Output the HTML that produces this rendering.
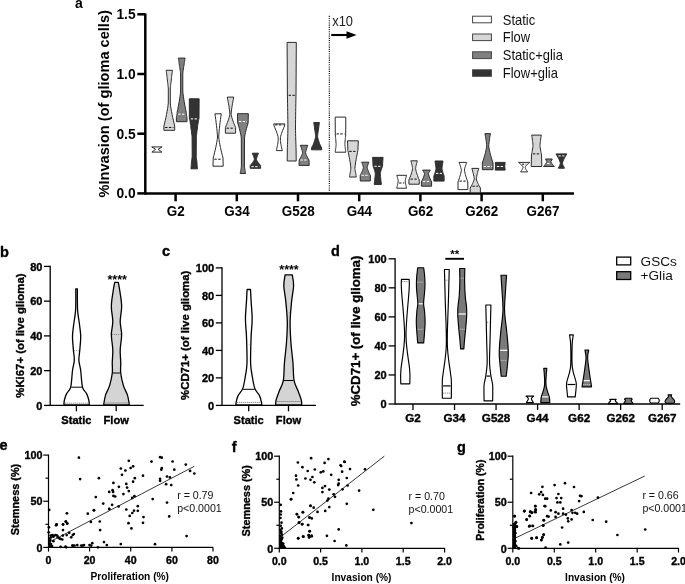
<!DOCTYPE html><html><head><meta charset="utf-8"><style>html,body{margin:0;padding:0;background:#fff;}body{width:685px;height:584px;overflow:hidden;}svg{display:block;will-change:transform;filter:blur(0.35px);font-family:"Liberation Sans",sans-serif;}</style></head><body>
<svg width="685" height="584" viewBox="0 0 685 584">
<rect width="685" height="584" fill="#fff"/>
<text x="75" y="7.7" font-size="14" font-weight="bold" text-anchor="start" fill="#000" >a</text>
<line x1="145.3" y1="13.45" x2="145.3" y2="194.65" stroke="#000" stroke-width="2.5" />
<line x1="145.3" y1="193.4" x2="574" y2="193.4" stroke="#000" stroke-width="2.5" />
<line x1="137.3" y1="193.4" x2="145.3" y2="193.4" stroke="#000" stroke-width="2.5" />
<text x="135.6" y="198.4" font-size="13.8" font-weight="bold" text-anchor="end" fill="#000" >0.0</text>
<line x1="137.3" y1="133.7" x2="145.3" y2="133.7" stroke="#000" stroke-width="2.5" />
<text x="135.6" y="138.7" font-size="13.8" font-weight="bold" text-anchor="end" fill="#000" >0.5</text>
<line x1="137.3" y1="74" x2="145.3" y2="74" stroke="#000" stroke-width="2.5" />
<text x="135.6" y="79" font-size="13.8" font-weight="bold" text-anchor="end" fill="#000" >1.0</text>
<line x1="137.3" y1="14.3" x2="145.3" y2="14.3" stroke="#000" stroke-width="2.5" />
<text x="135.6" y="19.3" font-size="13.8" font-weight="bold" text-anchor="end" fill="#000" >1.5</text>
<line x1="175.6" y1="193.4" x2="175.6" y2="201.3" stroke="#000" stroke-width="2.5" />
<text transform="translate(175.8,215.8) scale(0.96,1)" font-size="14" font-weight="bold" text-anchor="middle" fill="#000" >G2</text>
<line x1="236.8" y1="193.4" x2="236.8" y2="201.3" stroke="#000" stroke-width="2.5" />
<text transform="translate(237,215.8) scale(0.96,1)" font-size="14" font-weight="bold" text-anchor="middle" fill="#000" >G34</text>
<line x1="298" y1="193.4" x2="298" y2="201.3" stroke="#000" stroke-width="2.5" />
<text transform="translate(298.2,215.8) scale(0.96,1)" font-size="14" font-weight="bold" text-anchor="middle" fill="#000" >G528</text>
<line x1="359.2" y1="193.4" x2="359.2" y2="201.3" stroke="#000" stroke-width="2.5" />
<text transform="translate(359.4,215.8) scale(0.96,1)" font-size="14" font-weight="bold" text-anchor="middle" fill="#000" >G44</text>
<line x1="420.4" y1="193.4" x2="420.4" y2="201.3" stroke="#000" stroke-width="2.5" />
<text transform="translate(420.6,215.8) scale(0.96,1)" font-size="14" font-weight="bold" text-anchor="middle" fill="#000" >G62</text>
<line x1="481.6" y1="193.4" x2="481.6" y2="201.3" stroke="#000" stroke-width="2.5" />
<text transform="translate(481.8,215.8) scale(0.96,1)" font-size="14" font-weight="bold" text-anchor="middle" fill="#000" >G262</text>
<line x1="542.8" y1="193.4" x2="542.8" y2="201.3" stroke="#000" stroke-width="2.5" />
<text transform="translate(543,215.8) scale(0.96,1)" font-size="14" font-weight="bold" text-anchor="middle" fill="#000" >G267</text>
<text transform="translate(108.9,103.8) rotate(-90)" font-size="14.6" font-weight="bold" text-anchor="middle" fill="#000">%Invasion (of glioma cells)</text>
<line x1="329.3" y1="15.8" x2="329.3" y2="190.8" stroke="#000" stroke-width="1.1" stroke-dasharray="1.1,1.1"/>
<text transform="translate(332.2,25.7) scale(0.9,1)" font-size="14.3" font-weight="normal" text-anchor="start" fill="#222" >x10</text>
<line x1="331.2" y1="35" x2="348" y2="35" stroke="#000" stroke-width="2.1" />
<polygon points="346.5,31.2 356.6,35 346.5,38.8" fill="#000"/>
<rect x="472.6" y="16.2" width="18.8" height="6.6" fill="#ffffff" stroke="#444" stroke-width="1"/>
<text transform="translate(502.8,24.5) scale(0.94,1)" font-size="13.8" font-weight="normal" text-anchor="start" fill="#111" >Static</text>
<rect x="472.6" y="34" width="18.8" height="6.6" fill="#d6d6d6" stroke="#444" stroke-width="1"/>
<text transform="translate(502.8,42.3) scale(0.94,1)" font-size="13.8" font-weight="normal" text-anchor="start" fill="#111" >Flow</text>
<rect x="472.6" y="51.8" width="18.8" height="6.8" fill="#808080" stroke="#444" stroke-width="1"/>
<text transform="translate(502.8,60.3) scale(0.94,1)" font-size="13.8" font-weight="normal" text-anchor="start" fill="#111" >Static+glia</text>
<rect x="472.6" y="69.8" width="18.8" height="6.5" fill="#333333" stroke="#444" stroke-width="1"/>
<text transform="translate(502.8,78) scale(0.94,1)" font-size="13.8" font-weight="normal" text-anchor="start" fill="#111" >Flow+glia</text>
<path d="M162.1,146.9 L158.15,149.3 L161.9,152.1 L151.9,152.1 L155.65,149.3 L151.7,146.9 Z" fill="#ffffff" stroke="#2a2a2a" stroke-width="1" stroke-linejoin="round" />
<path d="M172.5,70.3 L172.31,71.51 L172.13,72.72 L171.95,73.94 L171.79,75.15 L171.64,76.36 L171.5,77.58 L171.38,78.79 L171.3,80 L171.14,81.12 L170.99,82.25 L170.84,83.38 L170.71,84.5 L170.58,85.62 L170.46,86.75 L170.37,87.88 L170.3,89 L170.3,103 L170.59,105.88 L171.03,108.75 L171.53,111.62 L172.09,114.5 L172.69,117.38 L173.33,120.25 L174,123.12 L174.7,126 L174.7,130.3 L163.9,130.3 L163.9,126 L164.6,123.12 L165.27,120.25 L165.91,117.38 L166.51,114.5 L167.07,111.62 L167.57,108.75 L168.01,105.88 L168.3,103 L168.3,89 L168.23,87.88 L168.14,86.75 L168.02,85.62 L167.89,84.5 L167.76,83.38 L167.61,82.25 L167.46,81.12 L167.3,80 L167.22,78.79 L167.1,77.58 L166.96,76.36 L166.81,75.15 L166.65,73.94 L166.47,72.72 L166.29,71.51 L166.1,70.3 Z" fill="#d6d6d6" stroke="#2a2a2a" stroke-width="1" stroke-linejoin="round" />
<line x1="165.1" y1="127.5" x2="173.5" y2="127.5" stroke="#111" stroke-width="1" stroke-dasharray="2.4,1.4"/>
<path d="M185.1,58.1 L184.96,58.84 L184.82,59.58 L184.69,60.31 L184.57,61.05 L184.45,61.79 L184.35,62.52 L184.26,63.26 L184.2,64 L183.98,65.25 L183.76,66.5 L183.56,67.75 L183.37,69 L183.19,70.25 L183.03,71.5 L182.89,72.75 L182.8,74 L182.8,91 L183.03,93.62 L183.36,96.25 L183.75,98.88 L184.18,101.5 L184.65,104.12 L185.14,106.75 L185.66,109.38 L186.2,112 L186.25,112.69 L186.33,113.38 L186.42,114.06 L186.52,114.75 L186.63,115.44 L186.75,116.12 L186.87,116.81 L187,117.5 L187,121.7 L176.4,121.7 L176.4,117.5 L176.53,116.81 L176.65,116.12 L176.77,115.44 L176.88,114.75 L176.98,114.06 L177.07,113.38 L177.15,112.69 L177.2,112 L177.74,109.38 L178.26,106.75 L178.75,104.12 L179.22,101.5 L179.65,98.88 L180.04,96.25 L180.37,93.62 L180.6,91 L180.6,74 L180.51,72.75 L180.37,71.5 L180.21,70.25 L180.03,69 L179.84,67.75 L179.64,66.5 L179.42,65.25 L179.2,64 L179.14,63.26 L179.05,62.52 L178.95,61.79 L178.83,61.05 L178.71,60.31 L178.58,59.58 L178.44,58.84 L178.3,58.1 Z" fill="#808080" stroke="#2a2a2a" stroke-width="1" stroke-linejoin="round" />
<line x1="178.16" y1="114.2" x2="185.24" y2="114.2" stroke="#fff" stroke-width="1" stroke-dasharray="2.4,1.4"/>
<path d="M199.1,98.8 L199,118 L198.75,119.25 L198.52,120.5 L198.29,121.75 L198.08,123 L197.88,124.25 L197.71,125.5 L197.55,126.75 L197.45,128 L197.27,129.25 L197.09,130.5 L196.92,131.75 L196.77,133 L196.62,134.25 L196.49,135.5 L196.38,136.75 L196.3,138 L196.2,156 L196.25,156.75 L196.32,157.5 L196.41,158.25 L196.5,159 L196.61,159.75 L196.72,160.5 L196.83,161.25 L196.95,162 L196.98,162.85 L197.03,163.7 L197.09,164.55 L197.15,165.4 L197.22,166.25 L197.29,167.1 L197.37,167.95 L197.45,168.8 L190.95,168.8 L191.03,167.95 L191.11,167.1 L191.18,166.25 L191.25,165.4 L191.31,164.55 L191.37,163.7 L191.42,162.85 L191.45,162 L191.57,161.25 L191.68,160.5 L191.79,159.75 L191.9,159 L191.99,158.25 L192.08,157.5 L192.15,156.75 L192.2,156 L192.1,138 L192.02,136.75 L191.91,135.5 L191.78,134.25 L191.63,133 L191.48,131.75 L191.31,130.5 L191.13,129.25 L190.95,128 L190.85,126.75 L190.69,125.5 L190.52,124.25 L190.32,123 L190.11,121.75 L189.88,120.5 L189.65,119.25 L189.4,118 L189.3,98.8 Z" fill="#333333" stroke="#2a2a2a" stroke-width="1" stroke-linejoin="round" />
<line x1="190.78" y1="118.9" x2="197.62" y2="118.9" stroke="#fff" stroke-width="1" stroke-dasharray="2.4,1.4"/>
<path d="M221.25,113.8 L220.84,116.7 L220.45,119.6 L220.08,122.5 L219.74,125.4 L219.41,128.3 L219.12,131.2 L218.87,134.1 L218.7,137 L218.99,139.62 L219.41,142.25 L219.9,144.88 L220.45,147.5 L221.03,150.12 L221.66,152.75 L222.31,155.38 L223,158 L223.2,166.2 L213,166.2 L213.2,158 L213.89,155.38 L214.54,152.75 L215.17,150.12 L215.75,147.5 L216.3,144.88 L216.79,142.25 L217.21,139.62 L217.5,137 L217.33,134.1 L217.08,131.2 L216.79,128.3 L216.46,125.4 L216.12,122.5 L215.75,119.6 L215.36,116.7 L214.95,113.8 Z" fill="#ffffff" stroke="#2a2a2a" stroke-width="1" stroke-linejoin="round" />
<line x1="214.37" y1="159.2" x2="221.83" y2="159.2" stroke="#111" stroke-width="1" stroke-dasharray="2.4,1.4"/>
<path d="M233.75,97.1 L233.33,99.24 L232.92,101.38 L232.54,103.51 L232.18,105.65 L231.84,107.79 L231.54,109.92 L231.28,112.06 L231.1,114.2 L231.4,115.86 L231.84,117.53 L232.36,119.19 L232.93,120.85 L233.54,122.51 L234.2,124.17 L234.88,125.84 L235.6,127.5 L235.6,133.2 L225.4,133.2 L225.4,127.5 L226.12,125.84 L226.8,124.17 L227.46,122.51 L228.07,120.85 L228.64,119.19 L229.16,117.53 L229.6,115.86 L229.9,114.2 L229.72,112.06 L229.46,109.92 L229.16,107.79 L228.82,105.65 L228.46,103.51 L228.08,101.38 L227.67,99.24 L227.25,97.1 Z" fill="#d6d6d6" stroke="#2a2a2a" stroke-width="1" stroke-linejoin="round" />
<line x1="226.6" y1="128.2" x2="234.4" y2="128.2" stroke="#111" stroke-width="1" stroke-dasharray="2.4,1.4"/>
<path d="M248.35,113.7 L248.1,123 L247.53,124.88 L246.98,126.75 L246.45,128.62 L245.96,130.5 L245.51,132.38 L245.09,134.25 L244.74,136.12 L244.5,138 L244.4,166 L244.48,166.94 L244.61,167.88 L244.75,168.81 L244.91,169.75 L245.08,170.69 L245.26,171.62 L245.45,172.56 L245.65,173.5 L240.15,173.5 L240.35,172.56 L240.54,171.62 L240.72,170.69 L240.89,169.75 L241.05,168.81 L241.19,167.88 L241.32,166.94 L241.4,166 L241.3,138 L241.06,136.12 L240.71,134.25 L240.29,132.38 L239.84,130.5 L239.35,128.62 L238.82,126.75 L238.27,124.88 L237.7,123 L237.45,113.7 Z" fill="#808080" stroke="#2a2a2a" stroke-width="1" stroke-linejoin="round" />
<line x1="238.86" y1="121.5" x2="246.94" y2="121.5" stroke="#fff" stroke-width="1" stroke-dasharray="2.4,1.4"/>
<path d="M258.5,153.2 L258.17,153.97 L257.84,154.75 L257.54,155.53 L257.25,156.3 L256.99,157.07 L256.75,157.85 L256.54,158.62 L256.4,159.4 L256.68,160.16 L257.09,160.93 L257.57,161.69 L258.11,162.45 L258.68,163.21 L259.29,163.97 L259.93,164.74 L260.6,165.5 L260.6,168.3 L250.2,168.3 L250.2,165.5 L250.87,164.74 L251.51,163.97 L252.12,163.21 L252.69,162.45 L253.23,161.69 L253.71,160.93 L254.12,160.16 L254.4,159.4 L254.26,158.62 L254.05,157.85 L253.81,157.07 L253.55,156.3 L253.26,155.53 L252.96,154.75 L252.63,153.97 L252.3,153.2 Z" fill="#333333" stroke="#2a2a2a" stroke-width="1" stroke-linejoin="round" />
<line x1="251.4" y1="166.7" x2="259.4" y2="166.7" stroke="#fff" stroke-width="1" stroke-dasharray="2.4,1.4"/>
<path d="M284.9,123.9 L284.5,126 L283.85,127.47 L283.22,128.95 L282.63,130.43 L282.07,131.9 L281.55,133.38 L281.08,134.85 L280.67,136.33 L280.4,137.8 L280.4,140.5 L280.53,141.76 L280.71,143.03 L280.93,144.29 L281.17,145.55 L281.43,146.81 L281.71,148.07 L282,149.34 L282.3,150.6 L276.3,150.6 L276.6,149.34 L276.89,148.07 L277.17,146.81 L277.43,145.55 L277.67,144.29 L277.89,143.03 L278.07,141.76 L278.2,140.5 L278.2,137.8 L277.93,136.33 L277.52,134.85 L277.05,133.38 L276.53,131.9 L275.97,130.43 L275.38,128.95 L274.75,127.47 L274.1,126 L273.7,123.9 Z" fill="#ffffff" stroke="#2a2a2a" stroke-width="1" stroke-linejoin="round" />
<line x1="275.09" y1="124.9" x2="283.51" y2="124.9" stroke="#111" stroke-width="1" stroke-dasharray="2.4,1.4"/>
<path d="M296.3,42.4 L296,95 L295.92,99.12 L295.84,103.25 L295.77,107.38 L295.7,111.5 L295.64,115.62 L295.58,119.75 L295.53,123.88 L295.5,128 L295.54,130.75 L295.6,133.5 L295.67,136.25 L295.74,139 L295.83,141.75 L295.91,144.5 L296,147.25 L296.1,150 L296.2,161 L287.2,161 L287.3,150 L287.4,147.25 L287.49,144.5 L287.57,141.75 L287.66,139 L287.73,136.25 L287.8,133.5 L287.86,130.75 L287.9,128 L287.87,123.88 L287.82,119.75 L287.76,115.62 L287.7,111.5 L287.63,107.38 L287.56,103.25 L287.48,99.12 L287.4,95 L287.1,42.4 Z" fill="#d6d6d6" stroke="#2a2a2a" stroke-width="1" stroke-linejoin="round" />
<line x1="288.61" y1="95.3" x2="294.79" y2="95.3" stroke="#111" stroke-width="1" stroke-dasharray="2.4,1.4"/>
<path d="M307.8,145.3 L307.45,146.23 L307.11,147.15 L306.79,148.07 L306.49,149 L306.21,149.93 L305.96,150.85 L305.75,151.77 L305.6,152.7 L305.83,153.61 L306.16,154.52 L306.55,155.44 L306.98,156.35 L307.45,157.26 L307.94,158.18 L308.46,159.09 L309,160 L309.2,165.4 L299,165.4 L299.2,160 L299.74,159.09 L300.26,158.18 L300.75,157.26 L301.22,156.35 L301.65,155.44 L302.04,154.52 L302.37,153.61 L302.6,152.7 L302.45,151.77 L302.24,150.85 L301.99,149.93 L301.71,149 L301.41,148.07 L301.09,147.15 L300.75,146.23 L300.4,145.3 Z" fill="#808080" stroke="#2a2a2a" stroke-width="1" stroke-linejoin="round" />
<line x1="300.4" y1="160" x2="307.8" y2="160" stroke="#fff" stroke-width="1" stroke-dasharray="2.4,1.4"/>
<path d="M319.5,122.6 L319.37,123.27 L319.25,123.95 L319.13,124.62 L319.02,125.3 L318.92,125.97 L318.83,126.65 L318.75,127.33 L318.7,128 L318.52,129.06 L318.36,130.12 L318.2,131.19 L318.05,132.25 L317.91,133.31 L317.78,134.38 L317.67,135.44 L317.6,136.5 L317.7,137.19 L317.85,137.88 L318.02,138.56 L318.21,139.25 L318.41,139.94 L318.63,140.62 L318.86,141.31 L319.1,142 L319.25,142.62 L319.46,143.25 L319.71,143.88 L319.99,144.5 L320.29,145.12 L320.61,145.75 L320.95,146.38 L321.3,147 L321.8,149.8 L311.4,149.8 L311.9,147 L312.25,146.38 L312.59,145.75 L312.91,145.12 L313.21,144.5 L313.49,143.88 L313.74,143.25 L313.95,142.62 L314.1,142 L314.34,141.31 L314.57,140.62 L314.79,139.94 L314.99,139.25 L315.18,138.56 L315.35,137.88 L315.5,137.19 L315.6,136.5 L315.53,135.44 L315.42,134.38 L315.29,133.31 L315.15,132.25 L315,131.19 L314.84,130.12 L314.68,129.06 L314.5,128 L314.45,127.33 L314.37,126.65 L314.28,125.97 L314.18,125.3 L314.07,124.62 L313.95,123.95 L313.83,123.27 L313.7,122.6 Z" fill="#333333" stroke="#2a2a2a" stroke-width="1" stroke-linejoin="round" />
<path d="M345.8,117.1 L345.7,135 L345.57,136.19 L345.45,137.38 L345.33,138.56 L345.22,139.75 L345.12,140.94 L345.03,142.12 L344.95,143.31 L344.9,144.5 L344.96,145.46 L345.05,146.43 L345.15,147.39 L345.27,148.35 L345.39,149.31 L345.52,150.27 L345.66,151.24 L345.8,152.2 L335.2,152.2 L335.34,151.24 L335.48,150.27 L335.61,149.31 L335.73,148.35 L335.85,147.39 L335.95,146.43 L336.04,145.46 L336.1,144.5 L336.05,143.31 L335.97,142.12 L335.88,140.94 L335.78,139.75 L335.67,138.56 L335.55,137.38 L335.43,136.19 L335.3,135 L335.2,117.1 Z" fill="#ffffff" stroke="#2a2a2a" stroke-width="1" stroke-linejoin="round" />
<line x1="336.49" y1="133.9" x2="344.51" y2="133.9" stroke="#111" stroke-width="1" stroke-dasharray="2.4,1.4"/>
<path d="M358.3,140.8 L357.9,150.5 L357.42,152.75 L356.96,155 L356.53,157.25 L356.12,159.5 L355.74,161.75 L355.39,164 L355.1,166.25 L354.9,168.5 L354.97,169.19 L355.06,169.88 L355.18,170.56 L355.31,171.25 L355.44,171.94 L355.59,172.62 L355.74,173.31 L355.9,174 L355.93,174.38 L355.98,174.75 L356.04,175.12 L356.1,175.5 L356.17,175.88 L356.24,176.25 L356.32,176.62 L356.4,177 L349.4,177 L349.48,176.62 L349.56,176.25 L349.63,175.88 L349.7,175.5 L349.76,175.12 L349.82,174.75 L349.87,174.38 L349.9,174 L350.06,173.31 L350.21,172.62 L350.36,171.94 L350.49,171.25 L350.62,170.56 L350.74,169.88 L350.83,169.19 L350.9,168.5 L350.7,166.25 L350.41,164 L350.06,161.75 L349.68,159.5 L349.27,157.25 L348.84,155 L348.38,152.75 L347.9,150.5 L347.5,140.8 Z" fill="#d6d6d6" stroke="#2a2a2a" stroke-width="1" stroke-linejoin="round" />
<line x1="349.29" y1="151.4" x2="356.51" y2="151.4" stroke="#111" stroke-width="1" stroke-dasharray="2.4,1.4"/>
<path d="M368.9,162.2 L368.63,162.88 L368.37,163.55 L368.12,164.22 L367.89,164.9 L367.67,165.57 L367.48,166.25 L367.31,166.92 L367.2,167.6 L367.42,168.59 L367.74,169.57 L368.11,170.56 L368.52,171.55 L368.96,172.54 L369.44,173.53 L369.93,174.51 L370.45,175.5 L370.3,181 L360.3,181 L360.15,175.5 L360.67,174.51 L361.16,173.53 L361.64,172.54 L362.08,171.55 L362.49,170.56 L362.86,169.57 L363.18,168.59 L363.4,167.6 L363.29,166.92 L363.12,166.25 L362.93,165.57 L362.71,164.9 L362.48,164.22 L362.23,163.55 L361.97,162.88 L361.7,162.2 Z" fill="#808080" stroke="#2a2a2a" stroke-width="1" stroke-linejoin="round" />
<line x1="361.45" y1="175.3" x2="369.15" y2="175.3" stroke="#fff" stroke-width="1" stroke-dasharray="2.4,1.4"/>
<path d="M383.1,157.4 L383.01,158.47 L382.93,159.55 L382.85,160.62 L382.77,161.7 L382.7,162.78 L382.64,163.85 L382.59,164.93 L382.55,166 L382.19,166.95 L381.85,167.9 L381.52,168.85 L381.21,169.8 L380.93,170.75 L380.67,171.7 L380.45,172.65 L380.3,173.6 L380.37,174.95 L380.48,176.3 L380.61,177.65 L380.75,179 L380.9,180.35 L381.06,181.7 L381.22,183.05 L381.4,184.4 L374.2,184.4 L374.38,183.05 L374.54,181.7 L374.7,180.35 L374.85,179 L374.99,177.65 L375.12,176.3 L375.23,174.95 L375.3,173.6 L375.15,172.65 L374.93,171.7 L374.67,170.75 L374.39,169.8 L374.08,168.85 L373.75,167.9 L373.41,166.95 L373.05,166 L373.01,164.93 L372.96,163.85 L372.9,162.78 L372.83,161.7 L372.75,160.62 L372.67,159.55 L372.59,158.47 L372.5,157.4 Z" fill="#333333" stroke="#2a2a2a" stroke-width="1" stroke-linejoin="round" />
<line x1="374.36" y1="166.3" x2="381.24" y2="166.3" stroke="#fff" stroke-width="1" stroke-dasharray="2.4,1.4"/>
<path d="M406.6,175.3 L406.38,176.01 L406.16,176.73 L405.96,177.44 L405.77,178.15 L405.59,178.86 L405.43,179.57 L405.29,180.29 L405.2,181 L405.3,181.9 L405.45,182.8 L405.62,183.7 L405.81,184.6 L406.01,185.5 L406.23,186.4 L406.46,187.3 L406.7,188.2 L396.7,188.2 L396.94,187.3 L397.17,186.4 L397.39,185.5 L397.59,184.6 L397.78,183.7 L397.95,182.8 L398.1,181.9 L398.2,181 L398.11,180.29 L397.97,179.57 L397.81,178.86 L397.63,178.15 L397.44,177.44 L397.24,176.73 L397.02,176.01 L396.8,175.3 Z" fill="#ffffff" stroke="#2a2a2a" stroke-width="1" stroke-linejoin="round" />
<line x1="399.11" y1="183" x2="404.29" y2="183" stroke="#111" stroke-width="1" stroke-dasharray="2.4,1.4"/>
<path d="M417.35,160.8 L417.07,161.76 L416.8,162.73 L416.55,163.69 L416.31,164.65 L416.09,165.61 L415.89,166.57 L415.72,167.54 L415.6,168.5 L415.84,169.94 L416.2,171.38 L416.62,172.81 L417.08,174.25 L417.58,175.69 L418.11,177.12 L418.67,178.56 L419.25,180 L419.25,184.2 L408.95,184.2 L408.95,180 L409.53,178.56 L410.09,177.12 L410.62,175.69 L411.12,174.25 L411.58,172.81 L412,171.38 L412.36,169.94 L412.6,168.5 L412.48,167.54 L412.31,166.57 L412.11,165.61 L411.89,164.65 L411.65,163.69 L411.4,162.73 L411.13,161.76 L410.85,160.8 Z" fill="#d6d6d6" stroke="#2a2a2a" stroke-width="1" stroke-linejoin="round" />
<line x1="410.51" y1="179.1" x2="417.69" y2="179.1" stroke="#111" stroke-width="1" stroke-dasharray="2.4,1.4"/>
<path d="M430.35,170.1 L430.06,170.56 L429.77,171.03 L429.5,171.49 L429.25,171.95 L429.02,172.41 L428.81,172.88 L428.62,173.34 L428.5,173.8 L428.71,174.83 L429.01,175.85 L429.37,176.88 L429.76,177.9 L430.18,178.93 L430.63,179.95 L431.11,180.97 L431.6,182 L431.6,186.2 L421.4,186.2 L421.4,182 L421.89,180.97 L422.37,179.95 L422.82,178.93 L423.24,177.9 L423.63,176.88 L423.99,175.85 L424.29,174.83 L424.5,173.8 L424.38,173.34 L424.19,172.88 L423.98,172.41 L423.75,171.95 L423.5,171.49 L423.23,171.03 L422.94,170.56 L422.65,170.1 Z" fill="#808080" stroke="#2a2a2a" stroke-width="1" stroke-linejoin="round" />
<line x1="422.89" y1="181.4" x2="430.11" y2="181.4" stroke="#fff" stroke-width="1" stroke-dasharray="2.4,1.4"/>
<path d="M443,161 L442.84,161.96 L442.69,162.93 L442.54,163.89 L442.41,164.85 L442.28,165.81 L442.16,166.77 L442.07,167.74 L442,168.7 L442.14,169.61 L442.35,170.52 L442.59,171.44 L442.85,172.35 L443.14,173.26 L443.44,174.18 L443.77,175.09 L444.1,176 L444.1,181.1 L433.9,181.1 L433.9,176 L434.23,175.09 L434.56,174.18 L434.86,173.26 L435.15,172.35 L435.41,171.44 L435.65,170.52 L435.86,169.61 L436,168.7 L435.93,167.74 L435.84,166.77 L435.72,165.81 L435.59,164.85 L435.46,163.89 L435.31,162.93 L435.16,161.96 L435,161 Z" fill="#333333" stroke="#2a2a2a" stroke-width="1" stroke-linejoin="round" />
<line x1="436.01" y1="173.4" x2="441.99" y2="173.4" stroke="#fff" stroke-width="1" stroke-dasharray="2.4,1.4"/>
<path d="M466.75,162.4 L466.38,163.36 L466.02,164.32 L465.68,165.29 L465.35,166.25 L465.06,167.21 L464.79,168.18 L464.56,169.14 L464.4,170.1 L464.63,171.59 L464.96,173.07 L465.35,174.56 L465.78,176.05 L466.25,177.54 L466.74,179.03 L467.26,180.51 L467.8,182 L467.8,189.6 L458,189.6 L458,182 L458.54,180.51 L459.06,179.03 L459.55,177.54 L460.02,176.05 L460.45,174.56 L460.84,173.07 L461.17,171.59 L461.4,170.1 L461.24,169.14 L461.01,168.18 L460.74,167.21 L460.45,166.25 L460.12,165.29 L459.78,164.32 L459.42,163.36 L459.05,162.4 Z" fill="#ffffff" stroke="#2a2a2a" stroke-width="1" stroke-linejoin="round" />
<line x1="459.53" y1="181.1" x2="466.27" y2="181.1" stroke="#111" stroke-width="1" stroke-dasharray="2.4,1.4"/>
<path d="M478.75,168.4 L478.36,169.71 L477.99,171.03 L477.63,172.34 L477.3,173.65 L476.98,174.96 L476.7,176.28 L476.46,177.59 L476.3,178.9 L476.57,180.04 L476.98,181.18 L477.45,182.31 L477.97,183.45 L478.53,184.59 L479.12,185.72 L479.75,186.86 L480.4,188 L480.4,192.8 L470.2,192.8 L470.2,188 L470.85,186.86 L471.48,185.72 L472.07,184.59 L472.63,183.45 L473.15,182.31 L473.62,181.18 L474.03,180.04 L474.3,178.9 L474.14,177.59 L473.9,176.28 L473.62,174.96 L473.3,173.65 L472.97,172.34 L472.61,171.03 L472.24,169.71 L471.85,168.4 Z" fill="#d6d6d6" stroke="#2a2a2a" stroke-width="1" stroke-linejoin="round" />
<line x1="472.42" y1="186.2" x2="478.18" y2="186.2" stroke="#111" stroke-width="1" stroke-dasharray="2.4,1.4"/>
<path d="M490.45,133.6 L490.17,135.15 L489.9,136.7 L489.65,138.25 L489.41,139.8 L489.19,141.35 L488.99,142.9 L488.82,144.45 L488.7,146 L488.99,148.12 L489.42,150.25 L489.92,152.38 L490.47,154.5 L491.06,156.62 L491.69,158.75 L492.36,160.88 L493.05,163 L493.05,169.7 L482.35,169.7 L482.35,163 L483.04,160.88 L483.71,158.75 L484.34,156.62 L484.93,154.5 L485.48,152.38 L485.98,150.25 L486.41,148.12 L486.7,146 L486.58,144.45 L486.41,142.9 L486.21,141.35 L485.99,139.8 L485.75,138.25 L485.5,136.7 L485.23,135.15 L484.95,133.6 Z" fill="#808080" stroke="#2a2a2a" stroke-width="1" stroke-linejoin="round" />
<line x1="483.55" y1="166.5" x2="491.85" y2="166.5" stroke="#fff" stroke-width="1" stroke-dasharray="2.4,1.4"/>
<path d="M505.15,162.4 L504.7,166 L505.15,170.1 L495.25,170.1 L495.7,166 L495.25,162.4 Z" fill="#333333" stroke="#2a2a2a" stroke-width="1" stroke-linejoin="round" />
<line x1="496.85" y1="166.5" x2="503.55" y2="166.5" stroke="#fff" stroke-width="1" stroke-dasharray="2.4,1.4"/>
<path d="M529.7,162.4 L528.97,163.01 L528.26,163.62 L527.6,164.24 L526.97,164.85 L526.39,165.46 L525.86,166.08 L525.41,166.69 L525.1,167.3 L525.27,167.88 L525.51,168.45 L525.8,169.03 L526.12,169.6 L526.46,170.18 L526.82,170.75 L527.2,171.33 L527.6,171.9 L520.6,171.9 L521,171.33 L521.38,170.75 L521.74,170.18 L522.08,169.6 L522.4,169.03 L522.69,168.45 L522.93,167.88 L523.1,167.3 L522.79,166.69 L522.34,166.08 L521.81,165.46 L521.23,164.85 L520.6,164.24 L519.94,163.62 L519.23,163.01 L518.5,162.4 Z" fill="#ffffff" stroke="#2a2a2a" stroke-width="1" stroke-linejoin="round" />
<line x1="521.76" y1="164.2" x2="526.44" y2="164.2" stroke="#111" stroke-width="1" stroke-dasharray="2.4,1.4"/>
<path d="M541.3,135.1 L541.09,136.39 L540.89,137.68 L540.71,138.96 L540.53,140.25 L540.36,141.54 L540.21,142.82 L540.09,144.11 L540,145.4 L540.1,146.6 L540.25,147.8 L540.42,149 L540.61,150.2 L540.81,151.4 L541.03,152.6 L541.26,153.8 L541.5,155 L541.8,166.5 L531.2,166.5 L531.5,155 L531.74,153.8 L531.97,152.6 L532.19,151.4 L532.39,150.2 L532.58,149 L532.75,147.8 L532.9,146.6 L533,145.4 L532.91,144.11 L532.79,142.82 L532.64,141.54 L532.47,140.25 L532.29,138.96 L532.11,137.68 L531.91,136.39 L531.7,135.1 Z" fill="#d6d6d6" stroke="#2a2a2a" stroke-width="1" stroke-linejoin="round" />
<line x1="532.92" y1="153.9" x2="540.08" y2="153.9" stroke="#111" stroke-width="1" stroke-dasharray="2.4,1.4"/>
<path d="M552.3,159 L550.9,161.6 L551.13,162.21 L551.46,162.82 L551.85,163.44 L552.28,164.05 L552.75,164.66 L553.24,165.28 L553.76,165.89 L554.3,166.5 L543.5,166.5 L544.04,165.89 L544.56,165.28 L545.05,164.66 L545.52,164.05 L545.95,163.44 L546.34,162.82 L546.67,162.21 L546.9,161.6 L545.5,159 Z" fill="#808080" stroke="#2a2a2a" stroke-width="1" stroke-linejoin="round" />
<line x1="547.11" y1="163.5" x2="550.69" y2="163.5" stroke="#fff" stroke-width="1" stroke-dasharray="2.4,1.4"/>
<path d="M566.8,153.9 L566.1,155.06 L565.43,156.22 L564.79,157.39 L564.19,158.55 L563.63,159.71 L563.13,160.88 L562.69,162.04 L562.4,163.2 L562.54,163.82 L562.75,164.45 L562.99,165.07 L563.25,165.7 L563.54,166.32 L563.84,166.95 L564.17,167.57 L564.5,168.2 L558.3,168.2 L558.63,167.57 L558.96,166.95 L559.26,166.32 L559.55,165.7 L559.81,165.07 L560.05,164.45 L560.26,163.82 L560.4,163.2 L560.11,162.04 L559.67,160.88 L559.17,159.71 L558.61,158.55 L558.01,157.39 L557.37,156.22 L556.7,155.06 L556,153.9 Z" fill="#333333" stroke="#2a2a2a" stroke-width="1" stroke-linejoin="round" />
<line x1="558.39" y1="155.9" x2="564.41" y2="155.9" stroke="#fff" stroke-width="1" stroke-dasharray="2.4,1.4"/>
<text x="0" y="256.6" font-size="14.5" font-weight="bold" text-anchor="start" fill="#000"  stroke="#000" stroke-width="0.35">b</text>
<line x1="50.2" y1="265.8" x2="50.2" y2="406" stroke="#000" stroke-width="1.3" />
<line x1="50.2" y1="405.4" x2="143.7" y2="405.4" stroke="#000" stroke-width="1.3" />
<line x1="44" y1="405.4" x2="50.2" y2="405.4" stroke="#000" stroke-width="1.3" />
<text x="42.4" y="409.6" font-size="11" font-weight="bold" text-anchor="end" fill="#000"  stroke="#000" stroke-width="0.35">0</text>
<line x1="44" y1="370.65" x2="50.2" y2="370.65" stroke="#000" stroke-width="1.3" />
<text x="42.4" y="374.85" font-size="11" font-weight="bold" text-anchor="end" fill="#000"  stroke="#000" stroke-width="0.35">20</text>
<line x1="44" y1="335.9" x2="50.2" y2="335.9" stroke="#000" stroke-width="1.3" />
<text x="42.4" y="340.1" font-size="11" font-weight="bold" text-anchor="end" fill="#000"  stroke="#000" stroke-width="0.35">40</text>
<line x1="44" y1="301.15" x2="50.2" y2="301.15" stroke="#000" stroke-width="1.3" />
<text x="42.4" y="305.35" font-size="11" font-weight="bold" text-anchor="end" fill="#000"  stroke="#000" stroke-width="0.35">60</text>
<line x1="44" y1="266.4" x2="50.2" y2="266.4" stroke="#000" stroke-width="1.3" />
<text x="42.4" y="270.6" font-size="11" font-weight="bold" text-anchor="end" fill="#000"  stroke="#000" stroke-width="0.35">80</text>
<line x1="76.4" y1="405.4" x2="76.4" y2="411.3" stroke="#000" stroke-width="1.3" />
<text x="76.4" y="424.2" font-size="11.1" font-weight="bold" text-anchor="middle" fill="#000"  stroke="#000" stroke-width="0.35">Static</text>
<line x1="116.2" y1="405.4" x2="116.2" y2="411.3" stroke="#000" stroke-width="1.3" />
<text x="116.2" y="424.2" font-size="11.1" font-weight="bold" text-anchor="middle" fill="#000"  stroke="#000" stroke-width="0.35">Flow</text>
<text transform="translate(23.6,335.6) rotate(-90)" font-size="11.38" font-weight="bold" text-anchor="middle" fill="#000" stroke="#000" stroke-width="0.35">%Ki67+ (of live glioma)</text>
<path d="M75.8,288.8 L77.4,288.8 C77.4,290.67 77.35,296.23 77.4,300 C77.45,303.77 77.3,306.93 77.7,311.4 C78.1,315.87 79.3,322.53 79.8,326.8 C80.3,331.07 80.7,333.13 80.7,337 C80.7,340.87 80.1,346.13 79.8,350 C79.5,353.87 78.75,356.78 78.9,360.2 C79.05,363.62 80.1,366 80.7,370.5 C81.3,375 81.52,383.35 82.5,387.2 C83.48,391.05 85.55,391.47 86.6,393.6 C87.65,395.73 88.35,398.1 88.8,400 C89.25,401.9 89.22,404.17 89.3,405 L63.9,405 C63.98,404.17 63.95,401.9 64.4,400 C64.85,398.1 65.55,395.73 66.6,393.6 C67.65,391.47 69.72,391.05 70.7,387.2 C71.68,383.35 71.9,375 72.5,370.5 C73.1,366 74.15,363.62 74.3,360.2 C74.45,356.78 73.7,353.87 73.4,350 C73.1,346.13 72.5,340.87 72.5,337 C72.5,333.13 72.9,331.07 73.4,326.8 C73.9,322.53 75.1,315.87 75.5,311.4 C75.9,306.93 75.75,303.77 75.8,300 C75.85,296.23 75.8,290.67 75.8,288.8 Z" fill="#fff" stroke="#000" stroke-width="1.3" stroke-linejoin="round" />
<path d="M114.7,282.3 L118.3,282.3 C118.55,283.72 119.24,286.82 119.8,290.8 C120.36,294.78 121.58,301.07 121.65,306.2 C121.72,311.33 120.2,316.88 120.2,321.6 C120.2,326.32 121.65,329.78 121.65,334.5 C121.65,339.22 120.35,345.2 120.2,349.9 C120.05,354.6 120.67,358.85 120.75,362.7 C120.83,366.55 120.24,369.13 120.7,373 C121.16,376.87 122.38,382.25 123.5,385.9 C124.62,389.55 126.48,392.12 127.4,394.9 C128.32,397.68 128.68,400.92 129,402.6 C129.32,404.28 129.25,404.6 129.3,405 L103.7,405 C103.75,404.6 103.68,404.28 104,402.6 C104.32,400.92 104.68,397.68 105.6,394.9 C106.52,392.12 108.38,389.55 109.5,385.9 C110.62,382.25 111.84,376.87 112.3,373 C112.76,369.13 112.17,366.55 112.25,362.7 C112.33,358.85 112.95,354.6 112.8,349.9 C112.65,345.2 111.35,339.22 111.35,334.5 C111.35,329.78 112.8,326.32 112.8,321.6 C112.8,316.88 111.28,311.33 111.35,306.2 C111.42,301.07 112.64,294.78 113.2,290.8 C113.76,286.82 114.45,283.72 114.7,282.3 Z" fill="#d4d4d4" stroke="#000" stroke-width="1.3" stroke-linejoin="round" />
<line x1="71.3" y1="387.2" x2="81.9" y2="387.2" stroke="#000" stroke-width="1" />
<line x1="74.06" y1="350.7" x2="79.14" y2="350.7" stroke="#888" stroke-width="0.9" stroke-dasharray="1,1"/>
<line x1="64.68" y1="403.2" x2="88.52" y2="403.2" stroke="#555" stroke-width="0.9" stroke-dasharray="1,1"/>
<line x1="112.9" y1="373" x2="120.1" y2="373" stroke="#000" stroke-width="1" />
<line x1="111.95" y1="334.5" x2="121.05" y2="334.5" stroke="#777" stroke-width="0.9" stroke-dasharray="1,1"/>
<line x1="104.55" y1="403" x2="128.45" y2="403" stroke="#555" stroke-width="0.9" stroke-dasharray="1,1"/>
<text x="117.2" y="283.6" font-size="12.5" font-weight="bold" text-anchor="middle" fill="#000" stroke="none">****</text>
<text x="162" y="256.2" font-size="14.5" font-weight="bold" text-anchor="start" fill="#000"  stroke="#000" stroke-width="0.35">c</text>
<line x1="222" y1="267.3" x2="222" y2="406" stroke="#000" stroke-width="1.3" />
<line x1="222" y1="405.4" x2="315.9" y2="405.4" stroke="#000" stroke-width="1.3" />
<line x1="215.8" y1="405.4" x2="222" y2="405.4" stroke="#000" stroke-width="1.3" />
<text x="214.2" y="409.6" font-size="11" font-weight="bold" text-anchor="end" fill="#000"  stroke="#000" stroke-width="0.35">0</text>
<line x1="215.8" y1="377.9" x2="222" y2="377.9" stroke="#000" stroke-width="1.3" />
<text x="214.2" y="382.1" font-size="11" font-weight="bold" text-anchor="end" fill="#000"  stroke="#000" stroke-width="0.35">20</text>
<line x1="215.8" y1="350.4" x2="222" y2="350.4" stroke="#000" stroke-width="1.3" />
<text x="214.2" y="354.6" font-size="11" font-weight="bold" text-anchor="end" fill="#000"  stroke="#000" stroke-width="0.35">40</text>
<line x1="215.8" y1="322.9" x2="222" y2="322.9" stroke="#000" stroke-width="1.3" />
<text x="214.2" y="327.1" font-size="11" font-weight="bold" text-anchor="end" fill="#000"  stroke="#000" stroke-width="0.35">60</text>
<line x1="215.8" y1="295.4" x2="222" y2="295.4" stroke="#000" stroke-width="1.3" />
<text x="214.2" y="299.6" font-size="11" font-weight="bold" text-anchor="end" fill="#000"  stroke="#000" stroke-width="0.35">80</text>
<line x1="215.8" y1="267.9" x2="222" y2="267.9" stroke="#000" stroke-width="1.3" />
<text x="214.2" y="272.1" font-size="11" font-weight="bold" text-anchor="end" fill="#000"  stroke="#000" stroke-width="0.35">100</text>
<line x1="248.7" y1="405.4" x2="248.7" y2="411.3" stroke="#000" stroke-width="1.3" />
<text x="248.7" y="424.2" font-size="11.1" font-weight="bold" text-anchor="middle" fill="#000"  stroke="#000" stroke-width="0.35">Static</text>
<line x1="288.5" y1="405.4" x2="288.5" y2="411.3" stroke="#000" stroke-width="1.3" />
<text x="288.5" y="424.2" font-size="11.1" font-weight="bold" text-anchor="middle" fill="#000"  stroke="#000" stroke-width="0.35">Flow</text>
<text transform="translate(189.2,335.3) rotate(-90)" font-size="11.38" font-weight="bold" text-anchor="middle" fill="#000" stroke="#000" stroke-width="0.35">%CD71+ (of live glioma)</text>
<path d="M247.1,289.5 L250.5,289.5 C250.6,291.43 250.83,296.18 251.1,301.1 C251.38,306.02 252.15,313.02 252.15,319 C252.15,324.98 251.36,329.72 251.1,337 C250.84,344.28 250.43,356.27 250.6,362.7 C250.78,369.13 251.45,371.32 252.15,375.6 C252.85,379.88 253.54,384.98 254.8,388.4 C256.06,391.82 258.58,393.73 259.7,396.1 C260.82,398.47 261.16,401.12 261.5,402.6 C261.84,404.08 261.71,404.6 261.75,405 L235.85,405 C235.89,404.6 235.76,404.08 236.1,402.6 C236.44,401.12 236.78,398.47 237.9,396.1 C239.02,393.73 241.54,391.82 242.8,388.4 C244.06,384.98 244.75,379.88 245.45,375.6 C246.15,371.32 246.82,369.13 247,362.7 C247.18,356.27 246.76,344.28 246.5,337 C246.24,329.72 245.45,324.98 245.45,319 C245.45,313.02 246.22,306.02 246.5,301.1 C246.78,296.18 247,291.43 247.1,289.5 Z" fill="#fff" stroke="#000" stroke-width="1.3" stroke-linejoin="round" />
<path d="M285.1,274.9 L292.3,274.9 C292.52,276.7 293.71,281.33 293.6,285.7 C293.49,290.07 292.23,295.12 291.65,301.1 C291.07,307.08 290.22,314.75 290.1,321.6 C289.97,328.45 290.42,335.35 290.9,342.2 C291.38,349.05 292.42,356.28 292.95,362.7 C293.48,369.12 293.24,375.98 294.1,380.7 C294.96,385.42 296.9,387.78 298.1,391 C299.3,394.22 300.7,397.67 301.3,400 C301.9,402.33 301.63,404.17 301.7,405 L275.7,405 C275.77,404.17 275.5,402.33 276.1,400 C276.7,397.67 278.1,394.22 279.3,391 C280.5,387.78 282.44,385.42 283.3,380.7 C284.16,375.98 283.92,369.12 284.45,362.7 C284.98,356.28 286.02,349.05 286.5,342.2 C286.98,335.35 287.43,328.45 287.3,321.6 C287.18,314.75 286.33,307.08 285.75,301.1 C285.17,295.12 283.91,290.07 283.8,285.7 C283.69,281.33 284.88,276.7 285.1,274.9 Z" fill="#d4d4d4" stroke="#000" stroke-width="1.3" stroke-linejoin="round" />
<line x1="242.83" y1="389.3" x2="254.77" y2="389.3" stroke="#000" stroke-width="1" />
<line x1="247.24" y1="344.3" x2="250.36" y2="344.3" stroke="#aaa" stroke-width="0.8" stroke-dasharray="1,1"/>
<line x1="236.76" y1="402.4" x2="260.84" y2="402.4" stroke="#555" stroke-width="0.9" stroke-dasharray="1,1"/>
<line x1="283.91" y1="380.5" x2="293.49" y2="380.5" stroke="#000" stroke-width="1" />
<line x1="287.23" y1="312.7" x2="290.17" y2="312.7" stroke="#888" stroke-width="0.8" stroke-dasharray="1,1"/>
<line x1="276.58" y1="401.5" x2="300.82" y2="401.5" stroke="#555" stroke-width="0.9" stroke-dasharray="1,1"/>
<text x="289" y="273.6" font-size="12.5" font-weight="bold" text-anchor="middle" fill="#000" stroke="none">****</text>
<text x="331" y="256.4" font-size="14.5" font-weight="bold" text-anchor="start" fill="#000"  stroke="#000" stroke-width="0.35">d</text>
<line x1="395.1" y1="258.2" x2="395.1" y2="404.6" stroke="#000" stroke-width="1.3" />
<line x1="395.1" y1="404" x2="680.2" y2="404" stroke="#000" stroke-width="1.3" />
<line x1="388.6" y1="404" x2="395.1" y2="404" stroke="#000" stroke-width="1.3" />
<text x="386.7" y="408.2" font-size="11" font-weight="bold" text-anchor="end" fill="#000"  stroke="#000" stroke-width="0.35">0</text>
<line x1="388.6" y1="374.96" x2="395.1" y2="374.96" stroke="#000" stroke-width="1.3" />
<text x="386.7" y="379.16" font-size="11" font-weight="bold" text-anchor="end" fill="#000"  stroke="#000" stroke-width="0.35">20</text>
<line x1="388.6" y1="345.92" x2="395.1" y2="345.92" stroke="#000" stroke-width="1.3" />
<text x="386.7" y="350.12" font-size="11" font-weight="bold" text-anchor="end" fill="#000"  stroke="#000" stroke-width="0.35">40</text>
<line x1="388.6" y1="316.88" x2="395.1" y2="316.88" stroke="#000" stroke-width="1.3" />
<text x="386.7" y="321.08" font-size="11" font-weight="bold" text-anchor="end" fill="#000"  stroke="#000" stroke-width="0.35">60</text>
<line x1="388.6" y1="287.84" x2="395.1" y2="287.84" stroke="#000" stroke-width="1.3" />
<text x="386.7" y="292.04" font-size="11" font-weight="bold" text-anchor="end" fill="#000"  stroke="#000" stroke-width="0.35">80</text>
<line x1="388.6" y1="258.8" x2="395.1" y2="258.8" stroke="#000" stroke-width="1.3" />
<text x="386.7" y="263" font-size="11" font-weight="bold" text-anchor="end" fill="#000"  stroke="#000" stroke-width="0.35">100</text>
<line x1="413" y1="404" x2="413" y2="410" stroke="#000" stroke-width="1.3" />
<text transform="translate(413,422.4) scale(1.05,1)" font-size="11.1" font-weight="bold" text-anchor="middle" fill="#000"  stroke="#000" stroke-width="0.35">G2</text>
<line x1="454.53" y1="404" x2="454.53" y2="410" stroke="#000" stroke-width="1.3" />
<text transform="translate(454.53,422.4) scale(1.05,1)" font-size="11.1" font-weight="bold" text-anchor="middle" fill="#000"  stroke="#000" stroke-width="0.35">G34</text>
<line x1="496.06" y1="404" x2="496.06" y2="410" stroke="#000" stroke-width="1.3" />
<text transform="translate(496.06,422.4) scale(1.05,1)" font-size="11.1" font-weight="bold" text-anchor="middle" fill="#000"  stroke="#000" stroke-width="0.35">G528</text>
<line x1="537.59" y1="404" x2="537.59" y2="410" stroke="#000" stroke-width="1.3" />
<text transform="translate(537.59,422.4) scale(1.05,1)" font-size="11.1" font-weight="bold" text-anchor="middle" fill="#000"  stroke="#000" stroke-width="0.35">G44</text>
<line x1="579.12" y1="404" x2="579.12" y2="410" stroke="#000" stroke-width="1.3" />
<text transform="translate(579.12,422.4) scale(1.05,1)" font-size="11.1" font-weight="bold" text-anchor="middle" fill="#000"  stroke="#000" stroke-width="0.35">G62</text>
<line x1="620.65" y1="404" x2="620.65" y2="410" stroke="#000" stroke-width="1.3" />
<text transform="translate(620.65,422.4) scale(1.05,1)" font-size="11.1" font-weight="bold" text-anchor="middle" fill="#000"  stroke="#000" stroke-width="0.35">G262</text>
<line x1="662.18" y1="404" x2="662.18" y2="410" stroke="#000" stroke-width="1.3" />
<text transform="translate(662.18,422.4) scale(1.05,1)" font-size="11.1" font-weight="bold" text-anchor="middle" fill="#000"  stroke="#000" stroke-width="0.35">G267</text>
<text transform="translate(360.3,331) rotate(-90)" font-size="13.25" font-weight="bold" text-anchor="middle" fill="#000" stroke="#000" stroke-width="0.35">%CD71+ (of live glioma)</text>
<rect x="616.7" y="257.1" width="14" height="7.8" fill="#fff" stroke="#000" stroke-width="1.3"/>
<rect x="616.7" y="271.7" width="14" height="7.8" fill="#7a7a7a" stroke="#000" stroke-width="1.3"/>
<text x="640.6" y="266.1" font-size="13.6" font-weight="normal" text-anchor="start" fill="#111" >GSCs</text>
<text x="640.6" y="280.1" font-size="13.6" font-weight="normal" text-anchor="start" fill="#111" >+Glia</text>
<line x1="445.3" y1="258.8" x2="464" y2="258.8" stroke="#000" stroke-width="1.9" />
<text x="454.8" y="257.8" font-size="11.5" font-weight="bold" text-anchor="middle" fill="#000" stroke="none">**</text>
<path d="M401.45,279.3 L409.15,279.3 C409.14,281.08 409.62,280.58 409.1,290 C408.58,299.42 405.9,322.47 406,335.8 C406.1,349.13 409.07,362 409.7,370 C410.33,378 409.78,381.5 409.8,383.8 L400.8,383.8 C400.82,381.5 400.27,378 400.9,370 C401.53,362 404.5,349.13 404.6,335.8 C404.7,322.47 402.02,299.42 401.5,290 C400.98,280.58 401.46,281.08 401.45,279.3 Z" fill="#fff" stroke="#000" stroke-width="1.15" stroke-linejoin="round" />
<line x1="402.46" y1="281.6" x2="408.14" y2="281.6" stroke="#333" stroke-width="0.8" stroke-dasharray="0.9,1.1"/>
<path d="M417.7,267.7 L423.7,267.7 C423.88,269.42 424.6,274.62 424.8,278 C425,281.38 425.03,284.67 424.9,288 C424.77,291.33 424.22,295.33 424,298 C423.78,300.67 423.5,301.67 423.6,304 C423.7,306.33 424.35,309 424.6,312 C424.85,315 425.12,318.5 425.1,322 C425.08,325.5 424.73,329.52 424.5,333 C424.27,336.48 423.83,341.25 423.7,342.9 L417.7,342.9 C417.57,341.25 417.13,336.48 416.9,333 C416.67,329.52 416.32,325.5 416.3,322 C416.28,318.5 416.55,315 416.8,312 C417.05,309 417.7,306.33 417.8,304 C417.9,301.67 417.62,300.67 417.4,298 C417.18,295.33 416.63,291.33 416.5,288 C416.37,284.67 416.4,281.38 416.6,278 C416.8,274.62 417.52,269.42 417.7,267.7 Z" fill="#7a7a7a" stroke="#000" stroke-width="1.15" stroke-linejoin="round" />
<line x1="418.59" y1="303.8" x2="422.81" y2="303.8" stroke="#fff" stroke-width="1.2" />
<line x1="417.56" y1="282.2" x2="423.84" y2="282.2" stroke="#eee" stroke-width="0.8" stroke-dasharray="0.9,1.1"/>
<line x1="417.7" y1="329.3" x2="423.7" y2="329.3" stroke="#eee" stroke-width="0.8" stroke-dasharray="0.9,1.1"/>
<path d="M444.43,269.5 L449.23,269.5 C449.1,274.58 448.75,287.45 448.43,300 C448.11,312.55 447.01,332.8 447.33,344.8 C447.65,356.8 449.66,366.02 450.33,372 C451,377.98 451.16,376.33 451.33,380.7 C451.5,385.07 451.33,395.28 451.33,398.2 L442.33,398.2 C442.33,395.28 442.16,385.07 442.33,380.7 C442.5,376.33 442.66,377.98 443.33,372 C444,366.02 446.01,356.8 446.33,344.8 C446.65,332.8 445.55,312.55 445.23,300 C444.91,287.45 444.56,274.58 444.43,269.5 Z" fill="#fff" stroke="#000" stroke-width="1.15" stroke-linejoin="round" />
<line x1="443.13" y1="385.9" x2="450.53" y2="385.9" stroke="#000" stroke-width="1.2" />
<line x1="445.71" y1="280.2" x2="447.95" y2="280.2" stroke="#333" stroke-width="0.8" stroke-dasharray="0.9,1.1"/>
<line x1="443.33" y1="393.1" x2="450.33" y2="393.1" stroke="#333" stroke-width="0.8" stroke-dasharray="0.9,1.1"/>
<path d="M459.63,268.5 L464.83,268.5 C464.8,270.75 464.56,277.42 464.63,282 C464.7,286.58 464.93,292 465.23,296 C465.53,300 466.18,303 466.43,306 C466.68,309 466.81,310.67 466.73,314 C466.65,317.33 466.3,321.67 465.93,326 C465.56,330.33 464.88,336.18 464.53,340 C464.18,343.82 463.95,347.42 463.83,348.9 L460.63,348.9 C460.51,347.42 460.28,343.82 459.93,340 C459.58,336.18 458.9,330.33 458.53,326 C458.16,321.67 457.81,317.33 457.73,314 C457.65,310.67 457.78,309 458.03,306 C458.28,303 458.93,300 459.23,296 C459.53,292 459.76,286.58 459.83,282 C459.9,277.42 459.66,270.75 459.63,268.5 Z" fill="#7a7a7a" stroke="#000" stroke-width="1.15" stroke-linejoin="round" />
<line x1="458.53" y1="314" x2="465.93" y2="314" stroke="#fff" stroke-width="1.2" />
<line x1="460.77" y1="278.2" x2="463.69" y2="278.2" stroke="#eee" stroke-width="0.8" stroke-dasharray="0.9,1.1"/>
<line x1="459.86" y1="329.3" x2="464.6" y2="329.3" stroke="#eee" stroke-width="0.8" stroke-dasharray="0.9,1.1"/>
<path d="M485.81,305 L490.91,305 C490.77,310.83 490.29,330.38 490.06,340 C489.83,349.62 489.41,356.68 489.56,362.7 C489.71,368.72 490.46,372.55 490.96,376.1 C491.46,379.65 492.26,381.68 492.56,384 C492.86,386.32 492.74,387.2 492.76,390 C492.78,392.8 492.68,399 492.66,400.8 L484.06,400.8 C484.04,399 483.94,392.8 483.96,390 C483.98,387.2 483.86,386.32 484.16,384 C484.46,381.68 485.26,379.65 485.76,376.1 C486.26,372.55 487.01,368.72 487.16,362.7 C487.31,356.68 486.89,349.62 486.66,340 C486.44,330.38 485.95,310.83 485.81,305 Z" fill="#fff" stroke="#000" stroke-width="1.15" stroke-linejoin="round" />
<line x1="486.56" y1="376.1" x2="490.16" y2="376.1" stroke="#000" stroke-width="1.2" />
<line x1="487.23" y1="322.2" x2="489.49" y2="322.2" stroke="#333" stroke-width="0.8" stroke-dasharray="0.9,1.1"/>
<path d="M500.96,275.2 L506.56,275.2 C506.39,277.67 505.89,284.12 505.56,290 C505.23,295.88 504.39,303.83 504.56,310.5 C504.73,317.17 505.99,324.25 506.56,330 C507.13,335.75 507.68,340.83 507.96,345 C508.24,349.17 508.38,351.33 508.26,355 C508.14,358.67 507.59,363.47 507.26,367 C506.93,370.53 506.43,374.67 506.26,376.2 L501.26,376.2 C501.09,374.67 500.59,370.53 500.26,367 C499.93,363.47 499.38,358.67 499.26,355 C499.14,351.33 499.28,349.17 499.56,345 C499.84,340.83 500.39,335.75 500.96,330 C501.53,324.25 502.79,317.17 502.96,310.5 C503.13,303.83 502.29,295.88 501.96,290 C501.63,284.12 501.13,277.67 500.96,275.2 Z" fill="#7a7a7a" stroke="#000" stroke-width="1.15" stroke-linejoin="round" />
<line x1="500.2" y1="350.3" x2="507.32" y2="350.3" stroke="#fff" stroke-width="1.2" />
<line x1="500.71" y1="360.4" x2="506.81" y2="360.4" stroke="#eee" stroke-width="0.8" stroke-dasharray="0.9,1.1"/>
<path d="M526.04,396.1 L533.74,396.1 C533.35,396.53 531.45,397.62 531.39,398.7 C531.33,399.78 533.06,401.95 533.39,402.6 L526.39,402.6 C526.72,401.95 528.45,399.78 528.39,398.7 C528.33,397.62 526.43,396.53 526.04,396.1 Z" fill="#fff" stroke="#000" stroke-width="1.15" stroke-linejoin="round" />
<path d="M543.74,368.4 L546.84,368.4 C546.75,369.33 546.42,371.08 546.29,374 C546.17,376.92 545.59,382.07 546.09,385.9 C546.59,389.73 548.67,394.22 549.29,397 C549.91,399.78 549.71,401.67 549.79,402.6 L540.79,402.6 C540.87,401.67 540.67,399.78 541.29,397 C541.91,394.22 543.99,389.73 544.49,385.9 C544.99,382.07 544.42,376.92 544.29,374 C544.17,371.08 543.83,369.33 543.74,368.4 Z" fill="#7a7a7a" stroke="#000" stroke-width="1.15" stroke-linejoin="round" />
<line x1="542.12" y1="396.9" x2="548.46" y2="396.9" stroke="#fff" stroke-width="1.2" />
<path d="M569.52,334.8 L573.32,334.8 C573.13,336.45 572.34,339.27 572.17,344.7 C572,350.13 571.65,361.08 572.32,367.4 C572.99,373.72 575.57,378.83 576.17,382.6 C576.77,386.37 576.08,387.62 575.92,390 C575.76,392.38 575.34,395.75 575.22,396.9 L567.62,396.9 C567.5,395.75 567.08,392.38 566.92,390 C566.76,387.62 566.07,386.37 566.67,382.6 C567.27,378.83 569.85,373.72 570.52,367.4 C571.19,361.08 570.84,350.13 570.67,344.7 C570.5,339.27 569.71,336.45 569.52,334.8 Z" fill="#fff" stroke="#000" stroke-width="1.15" stroke-linejoin="round" />
<line x1="567.53" y1="384.5" x2="575.31" y2="384.5" stroke="#000" stroke-width="1.2" />
<path d="M584.92,350 L588.72,350 C588.54,351.33 587.52,354.33 587.62,358 C587.72,361.67 588.66,367.2 589.32,372 C589.98,376.8 591.2,384.33 591.57,386.8 L582.07,386.8 C582.45,384.33 583.66,376.8 584.32,372 C584.98,367.2 585.92,361.67 586.02,358 C586.12,354.33 585.1,351.33 584.92,350 Z" fill="#7a7a7a" stroke="#000" stroke-width="1.15" stroke-linejoin="round" />
<line x1="583.8" y1="380.7" x2="589.84" y2="380.7" stroke="#fff" stroke-width="1.2" />
<line x1="583.42" y1="384.5" x2="590.22" y2="384.5" stroke="#eee" stroke-width="0.8" stroke-dasharray="0.9,1.1"/>
<path d="M609.75,399.4 L616.15,399.4 C616,399.67 615.12,400.47 615.25,401 C615.38,401.53 616.57,402.17 616.95,402.6 C617.33,403.03 617.45,403.43 617.55,403.6 L608.35,403.6 C608.45,403.43 608.57,403.03 608.95,402.6 C609.33,402.17 610.52,401.53 610.65,401 C610.78,400.47 609.9,399.67 609.75,399.4 Z" fill="#fff" stroke="#000" stroke-width="1.15" stroke-linejoin="round" />
<path d="M625.35,398.2 L631.35,398.2 C631.48,398.37 632.2,398.8 632.15,399.2 C632.1,399.6 631,400.03 631.05,400.6 C631.1,401.17 632.13,402.1 632.45,402.6 C632.77,403.1 632.87,403.43 632.95,403.6 L623.75,403.6 C623.83,403.43 623.93,403.1 624.25,402.6 C624.57,402.1 625.6,401.17 625.65,400.6 C625.7,400.03 624.6,399.6 624.55,399.2 C624.5,398.8 625.22,398.37 625.35,398.2 Z" fill="#7a7a7a" stroke="#000" stroke-width="1.15" stroke-linejoin="round" />
<path d="M651.08,398.2 L657.88,398.2 C658.08,398.43 658.88,399.03 659.08,399.6 C659.28,400.17 659.23,401.03 659.08,401.6 C658.93,402.17 658.33,402.77 658.18,403 L650.78,403 C650.63,402.77 650.03,402.17 649.88,401.6 C649.73,401.03 649.68,400.17 649.88,399.6 C650.08,399.03 650.88,398.43 651.08,398.2 Z" fill="#fff" stroke="#000" stroke-width="1.15" stroke-linejoin="round" />
<path d="M668.08,394.9 L671.68,394.9 C671.6,395.15 670.96,395.78 671.18,396.4 C671.4,397.02 672.43,397.9 672.98,398.6 C673.53,399.3 674.23,399.97 674.48,400.6 C674.73,401.23 674.65,401.93 674.48,402.4 C674.31,402.87 673.65,403.23 673.48,403.4 L666.28,403.4 C666.11,403.23 665.45,402.87 665.28,402.4 C665.11,401.93 665.03,401.23 665.28,400.6 C665.53,399.97 666.23,399.3 666.78,398.6 C667.33,397.9 668.36,397.02 668.58,396.4 C668.8,395.78 668.16,395.15 668.08,394.9 Z" fill="#7a7a7a" stroke="#000" stroke-width="1.15" stroke-linejoin="round" />
<text x="-0.6" y="450.1" font-size="14.5" font-weight="bold" text-anchor="start" fill="#000"  stroke="#000" stroke-width="0.35">e</text>
<line x1="48.5" y1="454.5" x2="48.5" y2="548" stroke="#000" stroke-width="1.2" />
<line x1="48.5" y1="547.4" x2="213.2" y2="547.4" stroke="#000" stroke-width="1.2" />
<line x1="43.3" y1="547.4" x2="48.5" y2="547.4" stroke="#000" stroke-width="1.2" />
<line x1="45.5" y1="524.33" x2="48.5" y2="524.33" stroke="#000" stroke-width="1.2" />
<line x1="43.3" y1="501.25" x2="48.5" y2="501.25" stroke="#000" stroke-width="1.2" />
<line x1="45.5" y1="478.18" x2="48.5" y2="478.18" stroke="#000" stroke-width="1.2" />
<line x1="43.3" y1="455.1" x2="48.5" y2="455.1" stroke="#000" stroke-width="1.2" />
<text x="42.5" y="551.6" font-size="10.8" font-weight="bold" text-anchor="end" fill="#000"  stroke="#000" stroke-width="0.35">0</text>
<text x="42.5" y="505.45" font-size="10.8" font-weight="bold" text-anchor="end" fill="#000"  stroke="#000" stroke-width="0.35">50</text>
<text x="42.5" y="459.3" font-size="10.8" font-weight="bold" text-anchor="end" fill="#000"  stroke="#000" stroke-width="0.35">100</text>
<line x1="48.5" y1="547.4" x2="48.5" y2="551.6" stroke="#000" stroke-width="1.2" />
<text x="48.5" y="563.9" font-size="10.6" font-weight="bold" text-anchor="middle" fill="#000"  stroke="#000" stroke-width="0.35">0</text>
<line x1="89.6" y1="547.4" x2="89.6" y2="551.6" stroke="#000" stroke-width="1.2" />
<text x="89.6" y="563.9" font-size="10.6" font-weight="bold" text-anchor="middle" fill="#000"  stroke="#000" stroke-width="0.35">20</text>
<line x1="130.7" y1="547.4" x2="130.7" y2="551.6" stroke="#000" stroke-width="1.2" />
<text x="130.7" y="563.9" font-size="10.6" font-weight="bold" text-anchor="middle" fill="#000"  stroke="#000" stroke-width="0.35">40</text>
<line x1="171.9" y1="547.4" x2="171.9" y2="551.6" stroke="#000" stroke-width="1.2" />
<text x="171.9" y="563.9" font-size="10.6" font-weight="bold" text-anchor="middle" fill="#000"  stroke="#000" stroke-width="0.35">60</text>
<line x1="213" y1="547.4" x2="213" y2="551.6" stroke="#000" stroke-width="1.2" />
<text x="213" y="563.9" font-size="10.6" font-weight="bold" text-anchor="middle" fill="#000"  stroke="#000" stroke-width="0.35">80</text>
<text transform="translate(129.7,580) scale(0.96,1)" font-size="10.6" font-weight="bold" text-anchor="middle" fill="#000" stroke="none">Proliferation (%)</text>
<text transform="translate(19.2,499.5) rotate(-90)" font-size="10.9" font-weight="bold" text-anchor="middle" fill="#000" stroke="#000" stroke-width="0.35">Stemness (%)</text>
<line x1="48.8" y1="542.4" x2="194.3" y2="466.3" stroke="#222" stroke-width="0.9" />
<text x="177.2" y="499.2" font-size="10.6" font-weight="normal" text-anchor="start" fill="#111" >r = 0.79</text>
<text x="177.2" y="511.7" font-size="10.6" font-weight="normal" text-anchor="start" fill="#111" >p&lt;0.0001</text>
<g fill="#000">
<circle cx="78.9" cy="457.7" r="1.35"/>
<circle cx="80.1" cy="479.1" r="1.35"/>
<circle cx="98.9" cy="478.2" r="1.35"/>
<circle cx="128.8" cy="460.8" r="1.35"/>
<circle cx="120.8" cy="468.5" r="1.35"/>
<circle cx="125.4" cy="470.5" r="1.35"/>
<circle cx="130.6" cy="468" r="1.35"/>
<circle cx="133.1" cy="466.3" r="1.35"/>
<circle cx="122" cy="474.8" r="1.35"/>
<circle cx="113.4" cy="482.9" r="1.35"/>
<circle cx="118.9" cy="486.8" r="1.35"/>
<circle cx="126.3" cy="483.9" r="1.35"/>
<circle cx="127.1" cy="487.6" r="1.35"/>
<circle cx="128.8" cy="491.1" r="1.35"/>
<circle cx="133.1" cy="481.7" r="1.35"/>
<circle cx="134.8" cy="478.2" r="1.35"/>
<circle cx="112.6" cy="490.2" r="1.35"/>
<circle cx="109.2" cy="491.9" r="1.35"/>
<circle cx="113.1" cy="491.9" r="1.35"/>
<circle cx="113.4" cy="495.9" r="1.35"/>
<circle cx="115.2" cy="496.5" r="1.35"/>
<circle cx="123.4" cy="494.1" r="1.35"/>
<circle cx="95.8" cy="497.1" r="1.35"/>
<circle cx="103.2" cy="503.6" r="1.35"/>
<circle cx="112.1" cy="504.8" r="1.35"/>
<circle cx="118.6" cy="506.5" r="1.35"/>
<circle cx="109.2" cy="509" r="1.35"/>
<circle cx="93.9" cy="510.2" r="1.35"/>
<circle cx="87.8" cy="513.7" r="1.35"/>
<circle cx="90.9" cy="521.9" r="1.35"/>
<circle cx="99.8" cy="521.5" r="1.35"/>
<circle cx="100.1" cy="530.1" r="1.35"/>
<circle cx="126.3" cy="509.5" r="1.35"/>
<circle cx="129.7" cy="515.9" r="1.35"/>
<circle cx="132.3" cy="513" r="1.35"/>
<circle cx="134" cy="510.7" r="1.35"/>
<circle cx="128.5" cy="523.2" r="1.35"/>
<circle cx="131.4" cy="528.4" r="1.35"/>
<circle cx="66.9" cy="513.3" r="1.35"/>
<circle cx="65.9" cy="521.5" r="1.35"/>
<circle cx="67.2" cy="523.6" r="1.35"/>
<circle cx="63" cy="524.4" r="1.35"/>
<circle cx="56.6" cy="524.4" r="1.35"/>
<circle cx="56.1" cy="525.3" r="1.35"/>
<circle cx="63" cy="530.1" r="1.35"/>
<circle cx="49.2" cy="509.9" r="1.35"/>
<circle cx="48.9" cy="527.3" r="1.35"/>
<circle cx="143" cy="475.7" r="1.35"/>
<circle cx="151.5" cy="461.6" r="1.35"/>
<circle cx="160.1" cy="457.2" r="1.35"/>
<circle cx="161.8" cy="457.7" r="1.35"/>
<circle cx="172.6" cy="461.5" r="1.35"/>
<circle cx="185.8" cy="464.6" r="1.35"/>
<circle cx="161.8" cy="468" r="1.35"/>
<circle cx="161.3" cy="469.7" r="1.35"/>
<circle cx="174.3" cy="469.7" r="1.35"/>
<circle cx="190.1" cy="470.9" r="1.35"/>
<circle cx="194.3" cy="473.5" r="1.35"/>
<circle cx="167" cy="476.5" r="1.35"/>
<circle cx="169.9" cy="477.4" r="1.35"/>
<circle cx="160.1" cy="478.8" r="1.35"/>
<circle cx="160.1" cy="480.8" r="1.35"/>
<circle cx="166.1" cy="484.2" r="1.35"/>
<circle cx="171.2" cy="485.1" r="1.35"/>
<circle cx="152.7" cy="499.1" r="1.35"/>
<circle cx="167" cy="502.6" r="1.35"/>
<circle cx="137.8" cy="506.2" r="1.35"/>
<circle cx="137.8" cy="510.8" r="1.35"/>
<circle cx="143.5" cy="517.1" r="1.35"/>
<circle cx="169.2" cy="516.4" r="1.35"/>
<circle cx="143" cy="522.8" r="1.35"/>
<circle cx="186.6" cy="536.1" r="1.35"/>
<circle cx="155" cy="544.2" r="1.35"/>
<circle cx="134.4" cy="496.2" r="1.35"/>
<circle cx="132.2" cy="497.9" r="1.35"/>
<circle cx="48.7" cy="532.3" r="1.35"/>
<circle cx="56.5" cy="524.7" r="1.35"/>
<circle cx="63.1" cy="524.5" r="1.35"/>
<circle cx="65.8" cy="521.7" r="1.35"/>
<circle cx="67.3" cy="523.6" r="1.35"/>
<circle cx="50.6" cy="535.6" r="1.35"/>
<circle cx="52.2" cy="535.1" r="1.35"/>
<circle cx="53.9" cy="535.6" r="1.35"/>
<circle cx="55.6" cy="535.1" r="1.35"/>
<circle cx="57.2" cy="535.6" r="1.35"/>
<circle cx="51.1" cy="537.3" r="1.35"/>
<circle cx="53.4" cy="536.7" r="1.35"/>
<circle cx="57.8" cy="537.3" r="1.35"/>
<circle cx="59.5" cy="538.4" r="1.35"/>
<circle cx="60.6" cy="539" r="1.35"/>
<circle cx="62.3" cy="539.5" r="1.35"/>
<circle cx="62.8" cy="535.6" r="1.35"/>
<circle cx="66.7" cy="535.1" r="1.35"/>
<circle cx="69.2" cy="532.8" r="1.35"/>
<circle cx="71.2" cy="537.3" r="1.35"/>
<circle cx="72.8" cy="535.1" r="1.35"/>
<circle cx="73.9" cy="534" r="1.35"/>
<circle cx="53.4" cy="541.2" r="1.35"/>
<circle cx="49.5" cy="541.7" r="1.35"/>
<circle cx="49.5" cy="543.4" r="1.35"/>
<circle cx="49.5" cy="545.1" r="1.35"/>
<circle cx="49.5" cy="546.2" r="1.35"/>
<circle cx="49.5" cy="538.5" r="1.35"/>
<circle cx="50.3" cy="540" r="1.35"/>
<circle cx="51" cy="544" r="1.35"/>
<circle cx="52" cy="546" r="1.35"/>
<circle cx="60.6" cy="546.8" r="1.35"/>
<circle cx="66.2" cy="547.3" r="1.35"/>
<circle cx="72.8" cy="545.6" r="1.35"/>
<circle cx="74.5" cy="545.6" r="1.35"/>
<circle cx="77.3" cy="545.1" r="1.35"/>
<circle cx="81.2" cy="545.6" r="1.35"/>
<circle cx="82.8" cy="545.6" r="1.35"/>
<circle cx="84" cy="545.1" r="1.35"/>
<circle cx="89.5" cy="545.1" r="1.35"/>
<circle cx="91.2" cy="545.6" r="1.35"/>
<circle cx="92.3" cy="543.2" r="1.35"/>
<circle cx="97.9" cy="547.3" r="1.35"/>
<circle cx="104" cy="542.1" r="1.35"/>
<circle cx="106.8" cy="545.1" r="1.35"/>
<circle cx="120.8" cy="544.1" r="1.35"/>
<circle cx="65.5" cy="546.7" r="1.35"/>
<circle cx="72.4" cy="545.5" r="1.35"/>
<circle cx="109.2" cy="508.9" r="1.35"/>
<circle cx="94" cy="510.3" r="1.35"/>
</g>
<text x="231.8" y="451.8" font-size="14.5" font-weight="bold" text-anchor="start" fill="#000"  stroke="#000" stroke-width="0.35">f</text>
<line x1="279.3" y1="455.6" x2="279.3" y2="548.9" stroke="#000" stroke-width="1.2" />
<line x1="279.3" y1="548.3" x2="445" y2="548.3" stroke="#000" stroke-width="1.2" />
<line x1="274.1" y1="548.3" x2="279.3" y2="548.3" stroke="#000" stroke-width="1.2" />
<line x1="276.3" y1="525.27" x2="279.3" y2="525.27" stroke="#000" stroke-width="1.2" />
<line x1="274.1" y1="502.25" x2="279.3" y2="502.25" stroke="#000" stroke-width="1.2" />
<line x1="276.3" y1="479.22" x2="279.3" y2="479.22" stroke="#000" stroke-width="1.2" />
<line x1="274.1" y1="456.2" x2="279.3" y2="456.2" stroke="#000" stroke-width="1.2" />
<text x="273.3" y="552.5" font-size="10.8" font-weight="bold" text-anchor="end" fill="#000"  stroke="#000" stroke-width="0.35">0</text>
<text x="273.3" y="506.45" font-size="10.8" font-weight="bold" text-anchor="end" fill="#000"  stroke="#000" stroke-width="0.35">50</text>
<text x="273.3" y="460.4" font-size="10.8" font-weight="bold" text-anchor="end" fill="#000"  stroke="#000" stroke-width="0.35">100</text>
<line x1="279.3" y1="548.3" x2="279.3" y2="552.5" stroke="#000" stroke-width="1.2" />
<text x="279.3" y="565.3" font-size="10.6" font-weight="bold" text-anchor="middle" fill="#000"  stroke="#000" stroke-width="0.35">0.0</text>
<line x1="320.6" y1="548.3" x2="320.6" y2="552.5" stroke="#000" stroke-width="1.2" />
<text x="320.6" y="565.3" font-size="10.6" font-weight="bold" text-anchor="middle" fill="#000"  stroke="#000" stroke-width="0.35">0.5</text>
<line x1="361.9" y1="548.3" x2="361.9" y2="552.5" stroke="#000" stroke-width="1.2" />
<text x="361.9" y="565.3" font-size="10.6" font-weight="bold" text-anchor="middle" fill="#000"  stroke="#000" stroke-width="0.35">1.0</text>
<line x1="403.2" y1="548.3" x2="403.2" y2="552.5" stroke="#000" stroke-width="1.2" />
<text x="403.2" y="565.3" font-size="10.6" font-weight="bold" text-anchor="middle" fill="#000"  stroke="#000" stroke-width="0.35">1.5</text>
<line x1="444.6" y1="548.3" x2="444.6" y2="552.5" stroke="#000" stroke-width="1.2" />
<text x="444.6" y="565.3" font-size="10.6" font-weight="bold" text-anchor="middle" fill="#000"  stroke="#000" stroke-width="0.35">2.0</text>
<text transform="translate(361.5,581.2) scale(0.96,1)" font-size="10.6" font-weight="bold" text-anchor="middle" fill="#000" stroke="none">Invasion (%)</text>
<text transform="translate(250,500.8) rotate(-90)" font-size="10.9" font-weight="bold" text-anchor="middle" fill="#000" stroke="#000" stroke-width="0.35">Stemness (%)</text>
<line x1="279.5" y1="537.8" x2="384.3" y2="456.2" stroke="#222" stroke-width="0.9" />
<text x="408.6" y="500.2" font-size="10.6" font-weight="normal" text-anchor="start" fill="#111" >r = 0.70</text>
<text x="408.6" y="512.9" font-size="10.6" font-weight="normal" text-anchor="start" fill="#111" >p&lt;0.0001</text>
<g fill="#000">
<circle cx="311.1" cy="458.2" r="1.35"/>
<circle cx="328.4" cy="459.1" r="1.35"/>
<circle cx="297.9" cy="462.5" r="1.35"/>
<circle cx="324.6" cy="462.9" r="1.35"/>
<circle cx="344.8" cy="462" r="1.35"/>
<circle cx="340.6" cy="465.3" r="1.35"/>
<circle cx="302.4" cy="467.2" r="1.35"/>
<circle cx="314.8" cy="469.5" r="1.35"/>
<circle cx="307.7" cy="471" r="1.35"/>
<circle cx="320.8" cy="472.3" r="1.35"/>
<circle cx="323.3" cy="471.4" r="1.35"/>
<circle cx="342.1" cy="471.7" r="1.35"/>
<circle cx="350" cy="469.1" r="1.35"/>
<circle cx="331.2" cy="474.8" r="1.35"/>
<circle cx="296" cy="475.7" r="1.35"/>
<circle cx="296.4" cy="479.5" r="1.35"/>
<circle cx="305.4" cy="478.5" r="1.35"/>
<circle cx="310.5" cy="479.8" r="1.35"/>
<circle cx="312.4" cy="477" r="1.35"/>
<circle cx="314.3" cy="482.3" r="1.35"/>
<circle cx="338.7" cy="479.8" r="1.35"/>
<circle cx="346.8" cy="478" r="1.35"/>
<circle cx="298.2" cy="485.5" r="1.35"/>
<circle cx="338.7" cy="483.6" r="1.35"/>
<circle cx="338.2" cy="485.1" r="1.35"/>
<circle cx="325" cy="486.1" r="1.35"/>
<circle cx="322.4" cy="487.9" r="1.35"/>
<circle cx="329.3" cy="489.6" r="1.35"/>
<circle cx="322.4" cy="492.1" r="1.35"/>
<circle cx="342.5" cy="489.3" r="1.35"/>
<circle cx="347.6" cy="485.5" r="1.35"/>
<circle cx="359.1" cy="490.6" r="1.35"/>
<circle cx="293.2" cy="493" r="1.35"/>
<circle cx="333.7" cy="494.3" r="1.35"/>
<circle cx="335" cy="496.8" r="1.35"/>
<circle cx="328.4" cy="498.7" r="1.35"/>
<circle cx="327.4" cy="500.6" r="1.35"/>
<circle cx="291.1" cy="499.2" r="1.35"/>
<circle cx="346.8" cy="503.8" r="1.35"/>
<circle cx="310.5" cy="505.8" r="1.35"/>
<circle cx="313.7" cy="507.7" r="1.35"/>
<circle cx="329.3" cy="507.1" r="1.35"/>
<circle cx="325.2" cy="510.9" r="1.35"/>
<circle cx="317.5" cy="511.9" r="1.35"/>
<circle cx="303" cy="512.2" r="1.35"/>
<circle cx="296.9" cy="514.3" r="1.35"/>
<circle cx="298.6" cy="517.1" r="1.35"/>
<circle cx="309.5" cy="517.5" r="1.35"/>
<circle cx="311.8" cy="518.4" r="1.35"/>
<circle cx="299.2" cy="522.6" r="1.35"/>
<circle cx="302.4" cy="524.1" r="1.35"/>
<circle cx="308" cy="525" r="1.35"/>
<circle cx="309.5" cy="531.3" r="1.35"/>
<circle cx="338.7" cy="529.4" r="1.35"/>
<circle cx="308.6" cy="535.4" r="1.35"/>
<circle cx="311.8" cy="536.3" r="1.35"/>
<circle cx="309.2" cy="537.3" r="1.35"/>
<circle cx="303.5" cy="536.7" r="1.35"/>
<circle cx="298.2" cy="538.2" r="1.35"/>
<circle cx="326.9" cy="535.8" r="1.35"/>
<circle cx="334.6" cy="541" r="1.35"/>
<circle cx="346.3" cy="545.4" r="1.35"/>
<circle cx="365" cy="469.3" r="1.35"/>
<circle cx="373.3" cy="509.8" r="1.35"/>
<circle cx="411.4" cy="523.1" r="1.35"/>
<circle cx="344.3" cy="461.7" r="1.35"/>
<circle cx="341.2" cy="466" r="1.35"/>
<circle cx="280.7" cy="504.8" r="1.35"/>
<circle cx="281" cy="511.4" r="1.35"/>
<circle cx="280.7" cy="514.5" r="1.35"/>
<circle cx="281.5" cy="522.7" r="1.35"/>
<circle cx="280.7" cy="525.8" r="1.35"/>
<circle cx="281.8" cy="528.4" r="1.35"/>
<circle cx="281.2" cy="533" r="1.35"/>
<circle cx="281.8" cy="534.6" r="1.35"/>
<circle cx="282.3" cy="537.7" r="1.35"/>
<circle cx="280.4" cy="518" r="1.35"/>
<circle cx="281.3" cy="531.6" r="1.35"/>
<circle cx="291" cy="499.3" r="1.35"/>
<circle cx="310.5" cy="505.8" r="1.35"/>
<circle cx="296.9" cy="514" r="1.35"/>
<circle cx="302.8" cy="512.3" r="1.35"/>
<circle cx="298.9" cy="517.1" r="1.35"/>
<circle cx="298.9" cy="522.7" r="1.35"/>
<circle cx="302" cy="524.3" r="1.35"/>
<circle cx="308.2" cy="525" r="1.35"/>
<circle cx="309.8" cy="531.2" r="1.35"/>
<circle cx="308.8" cy="535.1" r="1.35"/>
<circle cx="309.2" cy="537.1" r="1.35"/>
<circle cx="303" cy="536.6" r="1.35"/>
<circle cx="298.2" cy="538.4" r="1.35"/>
<circle cx="311.6" cy="535.6" r="1.35"/>
<circle cx="309.5" cy="517.6" r="1.35"/>
<circle cx="283.2" cy="543.5" r="1.35"/>
<circle cx="280.3" cy="536" r="1.35"/>
<circle cx="280.5" cy="538.5" r="1.35"/>
<circle cx="281.6" cy="539.6" r="1.35"/>
<circle cx="280.4" cy="530" r="1.35"/>
<polygon points="279.3,539.2 281.3,540 284.8,545.5 286.8,548.6 279.3,548.6"/>
</g>
<text x="457" y="451.5" font-size="14.5" font-weight="bold" text-anchor="start" fill="#000"  stroke="#000" stroke-width="0.35">g</text>
<line x1="512.8" y1="455.6" x2="512.8" y2="548.9" stroke="#000" stroke-width="1.2" />
<line x1="512.8" y1="548.3" x2="679" y2="548.3" stroke="#000" stroke-width="1.2" />
<line x1="507.6" y1="548.3" x2="512.8" y2="548.3" stroke="#000" stroke-width="1.2" />
<line x1="509.8" y1="525.27" x2="512.8" y2="525.27" stroke="#000" stroke-width="1.2" />
<line x1="507.6" y1="502.25" x2="512.8" y2="502.25" stroke="#000" stroke-width="1.2" />
<line x1="509.8" y1="479.22" x2="512.8" y2="479.22" stroke="#000" stroke-width="1.2" />
<line x1="507.6" y1="456.2" x2="512.8" y2="456.2" stroke="#000" stroke-width="1.2" />
<text x="506.8" y="552.5" font-size="10.8" font-weight="bold" text-anchor="end" fill="#000"  stroke="#000" stroke-width="0.35">0</text>
<text x="506.8" y="506.45" font-size="10.8" font-weight="bold" text-anchor="end" fill="#000"  stroke="#000" stroke-width="0.35">50</text>
<text x="506.8" y="460.4" font-size="10.8" font-weight="bold" text-anchor="end" fill="#000"  stroke="#000" stroke-width="0.35">100</text>
<line x1="512.8" y1="548.3" x2="512.8" y2="552.5" stroke="#000" stroke-width="1.2" />
<text x="512.8" y="565.3" font-size="10.6" font-weight="bold" text-anchor="middle" fill="#000"  stroke="#000" stroke-width="0.35">0.0</text>
<line x1="554.3" y1="548.3" x2="554.3" y2="552.5" stroke="#000" stroke-width="1.2" />
<text x="554.3" y="565.3" font-size="10.6" font-weight="bold" text-anchor="middle" fill="#000"  stroke="#000" stroke-width="0.35">0.5</text>
<line x1="595.7" y1="548.3" x2="595.7" y2="552.5" stroke="#000" stroke-width="1.2" />
<text x="595.7" y="565.3" font-size="10.6" font-weight="bold" text-anchor="middle" fill="#000"  stroke="#000" stroke-width="0.35">1.0</text>
<line x1="637.2" y1="548.3" x2="637.2" y2="552.5" stroke="#000" stroke-width="1.2" />
<text x="637.2" y="565.3" font-size="10.6" font-weight="bold" text-anchor="middle" fill="#000"  stroke="#000" stroke-width="0.35">1.5</text>
<line x1="678.5" y1="548.3" x2="678.5" y2="552.5" stroke="#000" stroke-width="1.2" />
<text x="678.5" y="565.3" font-size="10.6" font-weight="bold" text-anchor="middle" fill="#000"  stroke="#000" stroke-width="0.35">2.0</text>
<text transform="translate(595,581.2) scale(0.96,1)" font-size="10.6" font-weight="bold" text-anchor="middle" fill="#000" stroke="none">Invasion (%)</text>
<text transform="translate(484.3,500.1) rotate(-90)" font-size="10.5" font-weight="bold" text-anchor="middle" fill="#000" stroke="#000" stroke-width="0.35">Proliferation (%)</text>
<line x1="513" y1="539.2" x2="644.8" y2="476" stroke="#222" stroke-width="0.9" />
<text x="642.4" y="498.8" font-size="10.6" font-weight="normal" text-anchor="start" fill="#111" >r = 0.66</text>
<text x="642.4" y="512.2" font-size="10.6" font-weight="normal" text-anchor="start" fill="#111" >p&lt;0.0001</text>
<g fill="#000">
<circle cx="542.4" cy="486.8" r="1.35"/>
<circle cx="554.6" cy="485.1" r="1.35"/>
<circle cx="565" cy="483.2" r="1.35"/>
<circle cx="574" cy="487" r="1.35"/>
<circle cx="531.1" cy="493" r="1.35"/>
<circle cx="539.2" cy="494.3" r="1.35"/>
<circle cx="541.1" cy="492.1" r="1.35"/>
<circle cx="542.9" cy="494.9" r="1.35"/>
<circle cx="545.2" cy="498.7" r="1.35"/>
<circle cx="547.1" cy="498.7" r="1.35"/>
<circle cx="556.5" cy="498.1" r="1.35"/>
<circle cx="558.4" cy="494" r="1.35"/>
<circle cx="561.2" cy="498.1" r="1.35"/>
<circle cx="557.4" cy="502.4" r="1.35"/>
<circle cx="560.3" cy="502.4" r="1.35"/>
<circle cx="580" cy="495.8" r="1.35"/>
<circle cx="581.4" cy="496.2" r="1.35"/>
<circle cx="579.1" cy="501.1" r="1.35"/>
<circle cx="524.5" cy="510.9" r="1.35"/>
<circle cx="530.1" cy="511.9" r="1.35"/>
<circle cx="532" cy="512.8" r="1.35"/>
<circle cx="535.4" cy="506.2" r="1.35"/>
<circle cx="535.8" cy="510" r="1.35"/>
<circle cx="534.8" cy="511.9" r="1.35"/>
<circle cx="545.2" cy="506.2" r="1.35"/>
<circle cx="550.8" cy="510.4" r="1.35"/>
<circle cx="555.6" cy="512.2" r="1.35"/>
<circle cx="558.4" cy="513.7" r="1.35"/>
<circle cx="563.1" cy="508.7" r="1.35"/>
<circle cx="563.1" cy="513.7" r="1.35"/>
<circle cx="565.9" cy="514.7" r="1.35"/>
<circle cx="571.6" cy="510" r="1.35"/>
<circle cx="572.5" cy="512.8" r="1.35"/>
<circle cx="575.3" cy="512.8" r="1.35"/>
<circle cx="577.2" cy="513.7" r="1.35"/>
<circle cx="583.8" cy="511.9" r="1.35"/>
<circle cx="529.8" cy="516.2" r="1.35"/>
<circle cx="526.7" cy="519.4" r="1.35"/>
<circle cx="547.1" cy="516.2" r="1.35"/>
<circle cx="548.6" cy="516.6" r="1.35"/>
<circle cx="555.6" cy="516.9" r="1.35"/>
<circle cx="543.9" cy="520.3" r="1.35"/>
<circle cx="567.8" cy="518.4" r="1.35"/>
<circle cx="568.2" cy="521.3" r="1.35"/>
<circle cx="571.6" cy="519.4" r="1.35"/>
<circle cx="592.7" cy="520" r="1.35"/>
<circle cx="529.2" cy="526.4" r="1.35"/>
<circle cx="533" cy="526" r="1.35"/>
<circle cx="543.3" cy="525.6" r="1.35"/>
<circle cx="562.1" cy="527.5" r="1.35"/>
<circle cx="543.7" cy="534.5" r="1.35"/>
<circle cx="542.4" cy="537.3" r="1.35"/>
<circle cx="541.4" cy="540.1" r="1.35"/>
<circle cx="531.6" cy="538.2" r="1.35"/>
<circle cx="536.7" cy="537.7" r="1.35"/>
<circle cx="560.3" cy="544.4" r="1.35"/>
<circle cx="568.2" cy="542.6" r="1.35"/>
<circle cx="545.6" cy="547.6" r="1.35"/>
<circle cx="597.9" cy="497.7" r="1.35"/>
<circle cx="606.2" cy="521.7" r="1.35"/>
<circle cx="617.4" cy="535" r="1.35"/>
<circle cx="645.2" cy="529.5" r="1.35"/>
<circle cx="514.4" cy="516.2" r="1.35"/>
<circle cx="515.8" cy="522.6" r="1.35"/>
<circle cx="516.8" cy="526.8" r="1.35"/>
<circle cx="524.3" cy="511.3" r="1.35"/>
<circle cx="526.7" cy="519.8" r="1.35"/>
<circle cx="529.7" cy="515.8" r="1.35"/>
<circle cx="530.4" cy="511.5" r="1.35"/>
<circle cx="531.8" cy="512.7" r="1.35"/>
<circle cx="535.1" cy="506.1" r="1.35"/>
<circle cx="535.6" cy="509.4" r="1.35"/>
<circle cx="535.6" cy="512.2" r="1.35"/>
<circle cx="529.7" cy="525.9" r="1.35"/>
<circle cx="532.5" cy="525.9" r="1.35"/>
<circle cx="531.8" cy="538.6" r="1.35"/>
<circle cx="536.5" cy="537.9" r="1.35"/>
<circle cx="541.3" cy="540" r="1.35"/>
<circle cx="542.2" cy="537.7" r="1.35"/>
<circle cx="543.6" cy="534.8" r="1.35"/>
<circle cx="543.1" cy="525.4" r="1.35"/>
<circle cx="543.6" cy="520.2" r="1.35"/>
<circle cx="544.5" cy="506.1" r="1.35"/>
<circle cx="514.7" cy="516.2" r="1.35"/>
<circle cx="516" cy="522.2" r="1.35"/>
<circle cx="515.1" cy="524.1" r="1.35"/>
<circle cx="516.9" cy="526.4" r="1.35"/>
<circle cx="513.6" cy="527.9" r="1.35"/>
<circle cx="514.1" cy="531.6" r="1.35"/>
<circle cx="514.7" cy="535.4" r="1.35"/>
<circle cx="514.1" cy="539.2" r="1.35"/>
<circle cx="514.7" cy="542.9" r="1.35"/>
<circle cx="514.1" cy="546.7" r="1.35"/>
<circle cx="517.9" cy="548.2" r="1.35"/>
<circle cx="515" cy="530" r="1.35"/>
<circle cx="515.5" cy="533" r="1.35"/>
<circle cx="515" cy="537" r="1.35"/>
<circle cx="515.5" cy="541" r="1.35"/>
<circle cx="515" cy="544.5" r="1.35"/>
<circle cx="516.3" cy="546" r="1.35"/>
<circle cx="514.5" cy="529" r="1.35"/>
<circle cx="519" cy="548.4" r="1.35"/>
<rect x="512.8" y="523" width="3.2" height="25.5"/>
</g>
</svg></body></html>
